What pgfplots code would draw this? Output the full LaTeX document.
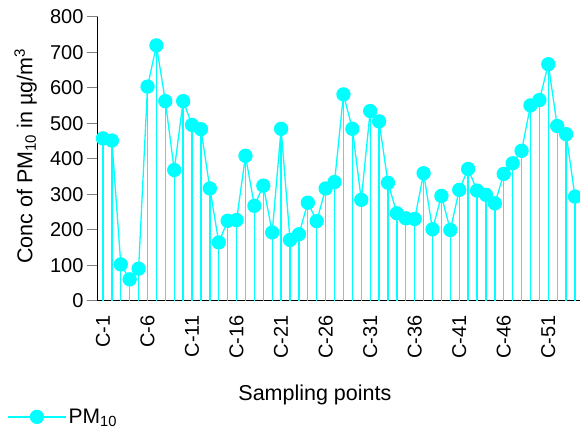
\documentclass[border=0pt]{standalone}
\usepackage{fontspec}
\setmainfont{Liberation Sans}
\usepackage{pgfplots}
\pgfplotsset{compat=1.18}

\definecolor{pmcyan}{HTML}{00FFFF}

\pgfplotstableread{
x  pm
1  458
2  452
3  103
4  61
5  91
6  604
7  720
8  563
9  369
10 563
11 496
12 484
13 317
14 165
15 226
16 228
17 409
18 268
19 325
20 193
21 485
22 172
23 188
24 277
25 225
26 317
27 335
28 582
29 485
30 285
31 535
32 506
33 333
34 247
35 233
36 231
37 360
38 202
39 296
40 200
41 313
42 372
43 311
44 299
45 275
46 358
47 388
48 423
49 551
50 566
51 667
52 493
53 470
54 294
}\pmdata

\begin{document}
\begin{tikzpicture}
\useasboundingbox (-98pt,-129pt) rectangle (482pt,301pt);
\begin{axis}[
  scale only axis,
  width=482pt, height=284pt,
  at={(0,0)}, anchor=south west,
  axis lines=left,
  axis line style={-, line width=1pt},
  xmin=0.44, xmax=54.56,
  ymin=0, ymax=800,
  ytick={0,100,...,800},
  xtick={1,6,11,16,21,26,31,36,41,46,51},
  xticklabels={C-1,C-6,C-11,C-16,C-21,C-26,C-31,C-36,C-41,C-46,C-51},
  x tick label style={rotate=90, anchor=east},
  xtick style={draw=none},
  ytick style={line width=1pt},
  tick align=outside,
  major tick length=11pt,
  /pgf/number format/assume math mode=true,
  tick label style={font=\fontsize{20}{24}\selectfont},
  label style={font=\fontsize{21.5}{26}\selectfont},
  xlabel={Sampling points},
  ylabel={Conc of PM\textsubscript{10} in µg/m\textsuperscript{3}},
  xlabel style={at={(axis description cs:0.45,-0.331)}, anchor=center},
  ylabel style={at={(axis description cs:-0.15,0.51)}, anchor=center},
  legend style={at={(axis description cs:-0.195,-0.408)}, anchor=west,
    draw=none, fill=none, font=\fontsize{21}{25}\selectfont},
  legend image code/.code={
    \draw[pmcyan, line width=1.5pt] (0pt,0pt) -- (58pt,0pt);
    \fill[pmcyan] (29pt,0pt) circle (6.5pt);
  },
  clip=false,
]
\addplot[ycomb, pmcyan, line width=1.3pt, forget plot] table[x=x, y=pm] {\pmdata};
\addplot[pmcyan, line width=1.3pt, mark=*, mark size=6.5pt,
  mark options={fill=pmcyan, draw=pmcyan}] table[x=x, y=pm] {\pmdata};
\legend{PM\textsubscript{10}}
\end{axis}
\end{tikzpicture}
\end{document}
